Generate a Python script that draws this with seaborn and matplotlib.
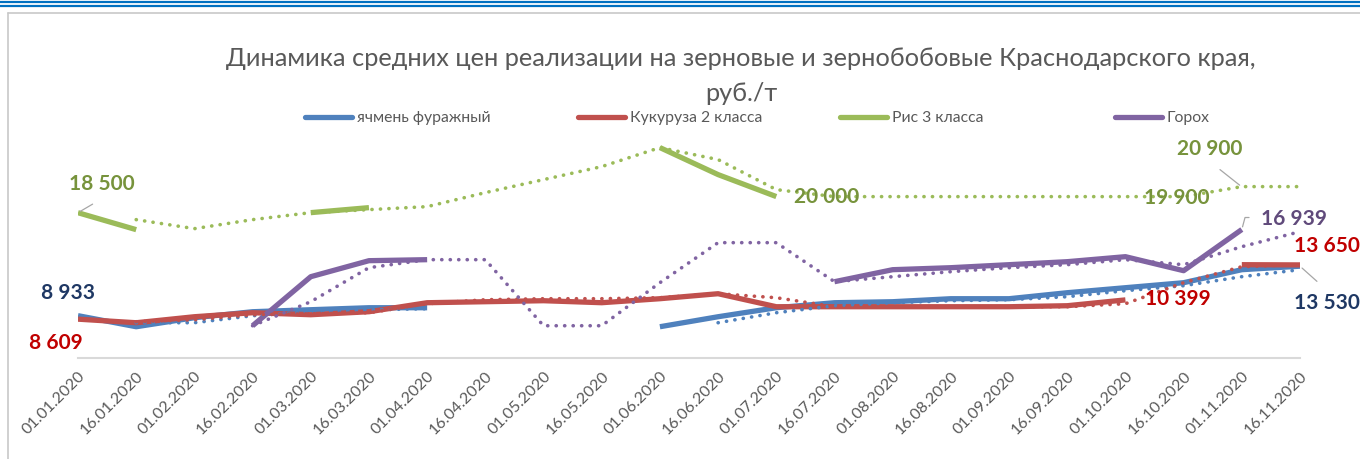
import numpy as np
import pandas as pd
import matplotlib
matplotlib.use("Agg")
import matplotlib.pyplot as plt
from matplotlib.lines import Line2D
import seaborn as sns

# === Data, rub./t ===
dates = ['01.01.2020', '16.01.2020', '01.02.2020', '16.02.2020', '01.03.2020', '16.03.2020',
         '01.04.2020', '16.04.2020', '01.05.2020', '16.05.2020', '01.06.2020', '16.06.2020',
         '01.07.2020', '16.07.2020', '01.08.2020', '16.08.2020', '01.09.2020', '16.09.2020',
         '01.10.2020', '16.10.2020', '01.11.2020', '16.11.2020']
nan = np.nan

barley = [8933, 7905, 8742, 9300, 9486, 9672, 9672, nan, nan, nan, 7905, 8835,
          9672, 10137, 10230, 10509, 10509, 11067, 11532, 11997, 13206, 13530]
corn = [8609, 8277, 8835, 9207, 9021, 9300, 10137, 10230, 10323, 10137, 10509, 10974,
        9765, 9765, 9765, 9765, 9765, 9858, 10399, nan, 13671, 13650]
rice = [18500, 16926, nan, nan, 18507, 18972, nan, nan, nan, nan, 24552, 22041,
        20000, nan, nan, nan, nan, nan, nan, nan, nan, nan]
peas = [nan, nan, nan, 7998, 12555, 14043, 14136, nan, nan, nan, nan, nan,
        nan, 12090, 13206, 13392, 13671, 13950, 14415, 13113, 16939, nan]

# dotted trend lines (moving average look)
barley_tr = [nan, 8277, 8277, 8928, 9300, 9486, 9579, nan, nan, nan, nan, 8277,
             9207, 9858, 10137, 10323, 10416, 10695, 11253, 11718, 12555, 13206]
corn_tr = [nan, 8370, 8556, 9021, 9114, 9207, 10044, 10416, 10509, 10509, 10602, 10974,
           10602, 9765, 9765, 9765, 9765, 9765, 10044, 11997, 13485, 13671]
rice_tr = [nan, 17856, 17019, 17856, 18507, 18786, 19065, 20367, 21576, 22785, 24552, 23436,
           20646, 19995, 19995, 19995, 19995, 19995, 19995, 19995, 20925, 20925]
peas_tr = [nan, nan, nan, 7998, 10230, 13392, 14136, 14136, 7998, 7998, 11997, 15717,
           15717, 12090, 12555, 13020, 13392, 13671, 14136, 13671, 15345, 16740]

series = ['ячмень фуражный', 'Кукуруза 2 класса', 'Рис 3 класса', 'Горох']
colors = ['#4F81BD', '#C0504D', '#9BBB59', '#8064A2']
legend_x = [305, 578, 840, 1115]

# data labels: (point index, text, colour, offset px)
label_pts = [(0, '18 500', '#77933C', (24, 29)),
             (0, '8 933', '#1F3864', (-10, 23)),
             (0, '8 609', '#C00000', (-22, -24)),
             (12, '20 000', '#77933C', (50, 0)),
             (19, '19 900', '#77933C', (-7, -1)),
             (20, '20 900', '#77933C', (-32, 38)),
             (20, '16 939', '#604A7B', (52, 11)),
             (21, '13 650', '#C00000', (27, 19)),
             (18, '10 399', '#C00000', (52, 1)),
             (21, '13 530', '#1F3864', (27, -37))]
label_vals = [rice, barley, corn, rice, rice_tr, rice_tr, peas, corn, corn, barley]

df = pd.DataFrame({'date': dates, 's0': barley, 's1': corn, 's2': rice, 's3': peas,
                   't0': barley_tr, 't1': corn_tr, 't2': rice_tr, 't3': peas_tr})
df['x'] = np.arange(len(dates))

sns.set_style('white')
plt.rcParams['font.family'] = ['Lato', 'DejaVu Sans']

fig = plt.figure(figsize=(13.6, 4.59), dpi=100)
ax = fig.add_axes([78 / 1360, 101 / 459, 1222 / 1360, 226 / 459])

for i in range(4):
    ax.plot(df['x'], df[f's{i}'], color=colors[i], lw=3.8, solid_capstyle='butt', zorder=3)
    ax.plot(df['x'], df[f't{i}'], color=colors[i], lw=2.6,
            linestyle=(0, (0.05, 2.3)), dash_capstyle='round', zorder=4)

ax.set_xlim(0, len(dates) - 1)
ax.set_ylim(5000, 26000)
ax.set_xticks(df['x'])
ax.set_xticklabels(dates, rotation=45, ha='right', va='top', rotation_mode='anchor',
                   fontsize=11.5, color='#595959')
ax.tick_params(axis='x', length=0, pad=8)
ax.set_yticks([])
ax.set_xlabel('')
ax.set_ylabel('')
sns.despine(ax=ax, left=True)
ax.spines['bottom'].set_color('#D9D9D9')
ax.spines['bottom'].set_linewidth(1.5)
ax.set_facecolor('none')

# data labels with small leader lines
for (pi, txt, col, off), vals in zip(label_pts, label_vals):
    ax.annotate(txt, xy=(pi, vals[pi]), xytext=off, textcoords='offset pixels',
                ha='center', va='center', fontsize=15, fontweight='bold', color=col, zorder=6)

leaders = [((0, 18500), (17, 10)), ((20, 20900), (-24, 19)), ((21, 13530), (19, -17))]
for (px, py), (dx, dy) in leaders:
    ax.annotate('', xy=(px, py), xytext=(dx, dy), textcoords='offset pixels',
                arrowprops=dict(arrowstyle='-', color='#A6A6A6', lw=0.9))
ax.annotate('', xy=(20, 16939), xytext=(10, 12), textcoords='offset pixels',
            arrowprops=dict(arrowstyle='-', color='#A6A6A6', lw=0.9,
                            connectionstyle='angle,angleA=0,angleB=75,rad=0'))

# title and legend
fig.text(0.545, 1 - 76 / 459,
         'Динамика средних цен реализации на зерновые и зернобобовые Краснодарского края,\nруб./т',
         ha='center', va='center', fontsize=18.3, color='#595959', linespacing=1.65)
for name, c, lx in zip(series, colors, legend_x):
    fig.legend([Line2D([0], [0], color=c, lw=3.8)], [name], loc='center left',
               bbox_to_anchor=(lx / 1360, 1 - 118 / 459), borderaxespad=0, borderpad=0,
               frameon=False, fontsize=11.3, handlelength=3.0, handletextpad=0.3,
               labelcolor='#595959')

# page decoration: blue rules and chart frame
for y, lw in [(1.5, 1.6), (5.5, 1.6)]:
    fig.add_artist(Line2D([0, 1], [1 - y / 459] * 2, color='#0070C0', lw=lw))
fig.add_artist(Line2D([7.5 / 1360, 1], [1 - 13 / 459] * 2, color='#C8C8C8', lw=1.2))
fig.add_artist(Line2D([7.5 / 1360] * 2, [0, 1 - 13 / 459], color='#C8C8C8', lw=1.2))

fig.savefig('out.png', dpi=100)
